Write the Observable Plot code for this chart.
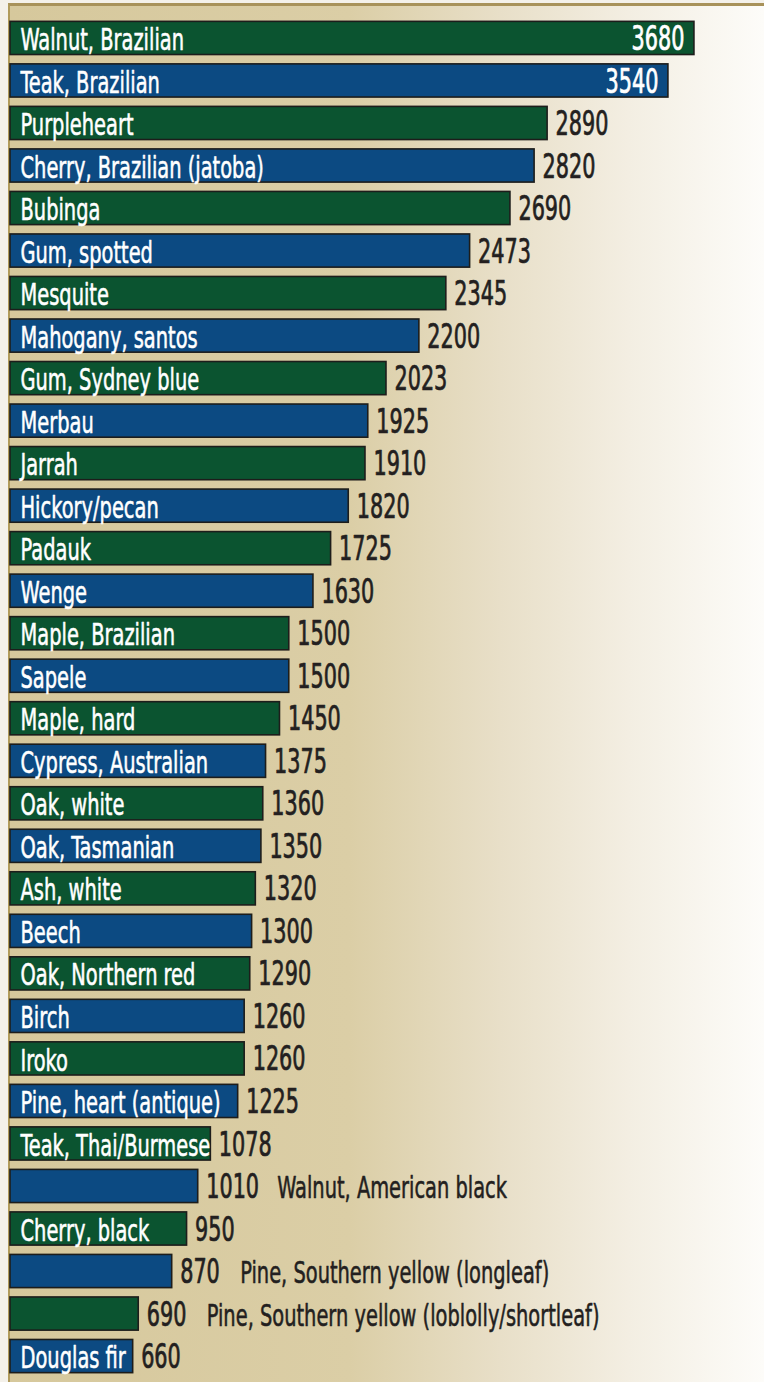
<!DOCTYPE html>
<html>
<head>
<meta charset="utf-8">
<script src="https://cdn.jsdelivr.net/npm/d3@7"></script>
<script src="https://cdn.jsdelivr.net/npm/@observablehq/plot@0.6"></script>
<style>
  html, body { margin: 0; padding: 0; background: #f4f1ea; }
  #wrap { position: relative; width: 764px; height: 1382px; overflow: hidden; }
  #bg { position: absolute; left: 8px; top: 3px; width: 756px; height: 1379px;
        border-top: 3px solid #a8925a; border-left: 2px solid #b19b5c; box-sizing: border-box;
        background: linear-gradient(to right, #d6c89c 0%, #dbcea6 45%, #e8dfc8 65%, #f3eee2 82%, #fdfcf9 100%); }
  #chart { position: absolute; left: 0; top: 0; }
</style>
</head>
<body>
<div id="wrap"><div id="bg"></div><div id="chart"></div></div>
<script>
const species = [
  "Walnut, Brazilian", "Teak, Brazilian", "Purpleheart", "Cherry, Brazilian (jatoba)",
  "Bubinga", "Gum, spotted", "Mesquite", "Mahogany, santos", "Gum, Sydney blue",
  "Merbau", "Jarrah", "Hickory/pecan", "Padauk", "Wenge", "Maple, Brazilian", "Sapele",
  "Maple, hard", "Cypress, Australian", "Oak, white", "Oak, Tasmanian", "Ash, white",
  "Beech", "Oak, Northern red", "Birch", "Iroko", "Pine, heart (antique)",
  "Teak, Thai/Burmese", "Walnut, American black", "Cherry, black",
  "Pine, Southern yellow (longleaf)", "Pine, Southern yellow (loblolly/shortleaf)", "Douglas fir"
];
const hardness = [
  3680, 3540, 2890, 2820, 2690, 2473, 2345, 2200, 2023, 1925, 1910, 1820, 1725, 1630,
  1500, 1500, 1450, 1375, 1360, 1350, 1320, 1300, 1290, 1260, 1260, 1225, 1078, 1010,
  950, 870, 690, 660
];
// names written beside the bar instead of inside it
const outsideNames = ["Walnut, American black", "Pine, Southern yellow (longleaf)", "Pine, Southern yellow (loblolly/shortleaf)"];
// values written inside the bar
const insideValues = ["Walnut, Brazilian", "Teak, Brazilian"];

const GREEN = "#0b5430", BLUE = "#0c4a82", INK = "#231f20";
const FONT = "'Liberation Sans Narrow', 'DejaVu Sans Condensed', 'Arial Narrow', sans-serif";

const data = species.map((name, i) => ({name, value: hardness[i], i}));
const inLabel = data.filter(d => !outsideNames.includes(d.name));
const inVal = data.filter(d => insideValues.includes(d.name));
const outVal = data.filter(d => !insideValues.includes(d.name));
const outName3 = data.filter(d => outsideNames.includes(d.name) && String(d.value).length === 3);
const outName4 = data.filter(d => outsideNames.includes(d.name) && String(d.value).length === 4);

const LABEL = {fontSize: 30, fontFamily: FONT, strokeWidth: 0.55};
const VALUE = {fontSize: 33, fontFamily: FONT, strokeWidth: 0.75};

const chart = Plot.plot({
  width: 764,
  height: 1382,
  marginLeft: 10,
  marginRight: 0,
  marginTop: 12,
  marginBottom: 0,
  x: {domain: [0, 4057], axis: null},
  y: {domain: species, axis: null, padding: 0.22, round: false},
  style: {background: "transparent", overflow: "visible"},
  marks: [
    Plot.barX(data, {
      x: "value", y: "name",
      fill: d => d.i % 2 ? BLUE : GREEN,
      stroke: "#1d1d1b", strokeWidth: 1.6
    }),
    Plot.text(inLabel, {
      x: 0, y: "name", text: "name", textAnchor: "start", dx: 10, dy: 2,
      fill: "white", stroke: "white", ...LABEL
    }),
    Plot.text(outName3, {
      x: "value", y: "name", text: "name", textAnchor: "start", dx: 68, dy: 2,
      fill: INK, stroke: INK, ...LABEL
    }),
    Plot.text(outName4, {
      x: "value", y: "name", text: "name", textAnchor: "start", dx: 79, dy: 2,
      fill: INK, stroke: INK, ...LABEL
    }),
    Plot.text(inVal, {
      x: "value", y: "name", text: d => String(d.value), textAnchor: "end", dx: -10, dy: 1,
      fill: "white", stroke: "white", ...VALUE
    }),
    Plot.text(outVal, {
      x: "value", y: "name", text: d => String(d.value), textAnchor: "start", dx: 8, dy: 1,
      fill: INK, stroke: INK, ...VALUE
    })
  ]
});

// condense the lettering horizontally (the original uses a very condensed face)
const groups = chart.querySelectorAll("g[aria-label='text']");
groups.forEach((g, k) => {
  const s = k < 3 ? 0.72 : 0.70;
  g.querySelectorAll("text").forEach(t => {
    const tr = t.getAttribute("transform") || "";
    t.setAttribute("transform", tr + ` scale(${s},1)`);
  });
});

document.getElementById("chart").appendChild(chart);
</script>
</body>
</html>
